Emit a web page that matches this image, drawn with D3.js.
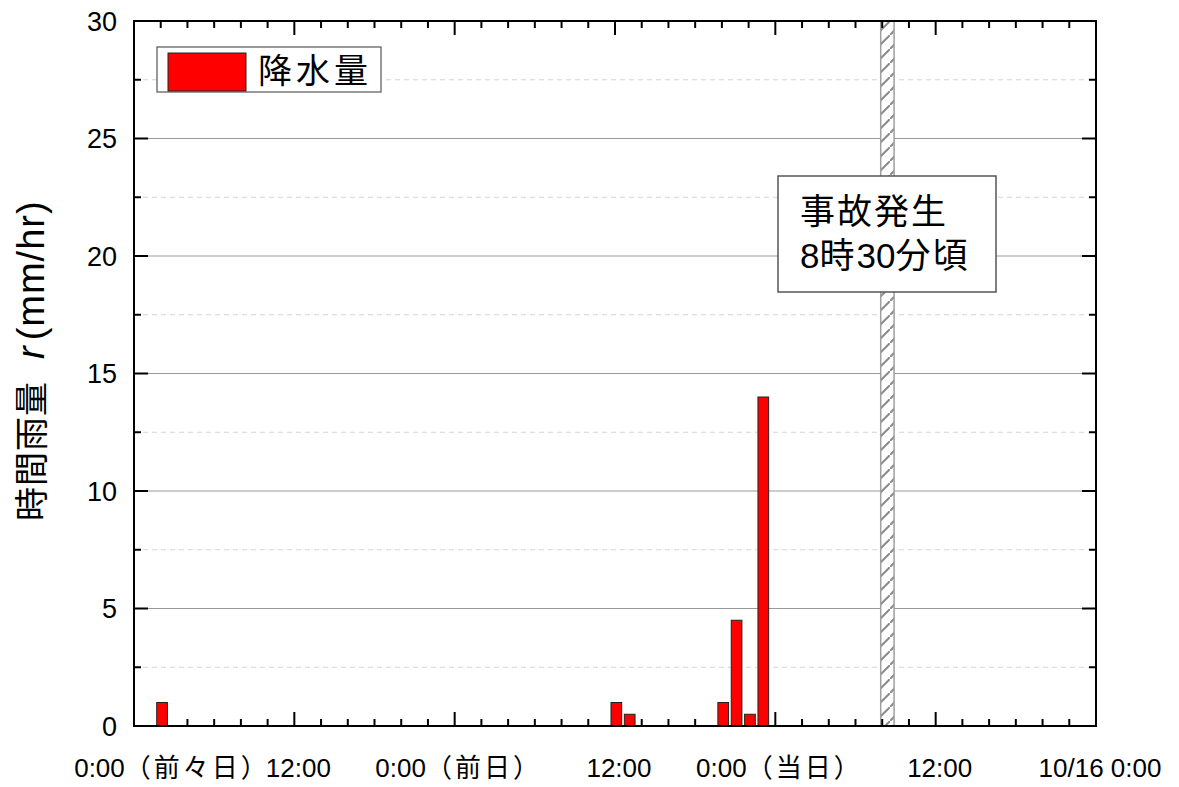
<!DOCTYPE html>
<html>
<head>
<meta charset="utf-8">
<script src="https://cdn.jsdelivr.net/npm/d3@7"></script>
<style>
  html, body { margin: 0; padding: 0; background: #fff; }
  svg { display: block; }
  text { font-family: "Liberation Sans", Arial, "Noto Sans CJK JP", sans-serif; fill: #000; }
</style>
</head>
<body>
<svg id="chart" width="1179" height="787"></svg>
<script>
// Hourly rainfall, hours counted from 0:00 two days before the accident
const rainHours = [2, 36, 37, 44, 45, 46, 47];
const rainValues = [1, 1, 0.5, 1, 4.5, 0.5, 14];

// Time axis (hours) and its labels
const xTickHours = [0, 12, 24, 36, 48, 60, 72];
const xTickLabels = ["0:00（前々日）", "12:00", "0:00（前日）", "12:00", "0:00（当日）", "12:00", "10/16 0:00"];

// Value axis
const yTicks = [0, 5, 10, 15, 20, 25, 30];

// Accident window (8:00–9:00 on the day)
const accidentWindow = [56, 57];
const accidentLines = ["事故発生", "8時30分頃"];
const legendLabel = "降水量";

const W = 1179, H = 787;
const margin = { left: 134, right: 83, top: 21, bottom: 61 };
const innerW = W - margin.left - margin.right;
const innerH = H - margin.top - margin.bottom;

const svg = d3.select("#chart");
const defs = svg.append("defs");

// Split a label into runs of wide (CJK) and narrow characters
const isWide = ch => ch.charCodeAt(0) >= 0x3000;
function runs(str) {
  const out = [];
  for (const ch of str) {
    const w = isWide(ch);
    if (out.length && out[out.length - 1].wide === w) out[out.length - 1].t += ch;
    else out.push({ t: ch, wide: w });
  }
  return out;
}
function writeRuns(sel, str, wideSpacing) {
  runs(str).forEach(r => {
    sel.append("tspan")
      .attr("letter-spacing", r.wide ? wideSpacing : 0)
      .text(r.t);
  });
}

// Diagonal hatch for the accident window
const pat = defs.append("pattern")
  .attr("id", "hatch")
  .attr("patternUnits", "userSpaceOnUse")
  .attr("width", 14).attr("height", 14);
pat.append("rect").attr("width", 14).attr("height", 14).attr("fill", "#fff");
pat.append("line")
  .attr("x1", 0).attr("y1", 14).attr("x2", 14).attr("y2", 0)
  .attr("stroke", "#8a8a8a").attr("stroke-width", 2);

const g = svg.append("g").attr("transform", `translate(${margin.left},${margin.top})`);

const x = d3.scaleLinear().domain([0, 72]).range([0, innerW]);
const y = d3.scaleLinear().domain([0, 30]).range([innerH, 0]);

// Horizontal grid: dashed minor, solid major
const minorY = d3.range(2.5, 30, 5);
g.append("g").selectAll("line").data(minorY).join("line")
  .attr("x1", 0).attr("x2", innerW)
  .attr("y1", d => y(d)).attr("y2", d => y(d))
  .attr("stroke", "#d4d4d4").attr("stroke-width", 1)
  .attr("stroke-dasharray", "5,4");
g.append("g").selectAll("line").data(yTicks.filter(d => d > 0 && d < 30)).join("line")
  .attr("x1", 0).attr("x2", innerW)
  .attr("y1", d => y(d)).attr("y2", d => y(d))
  .attr("stroke", "#999").attr("stroke-width", 1);

// Accident window band
g.append("rect")
  .attr("x", x(accidentWindow[0]) - 1.5)
  .attr("y", 0)
  .attr("width", x(accidentWindow[1]) - x(accidentWindow[0]))
  .attr("height", innerH)
  .attr("fill", "url(#hatch)")
  .attr("stroke", "#a0a0a0").attr("stroke-width", 1.5);

// Axes with inward ticks on all four sides
const minorX = d3.range(0, 73, 2);
const minorYall = d3.range(0, 30.1, 2.5);
function tickLen(isMajor) { return isMajor ? 14 : 7; }

const ticks = g.append("g").attr("stroke", "#000").attr("stroke-width", 2);
minorX.forEach(h => {
  const L = tickLen(h % 12 === 0);
  ticks.append("line").attr("x1", x(h)).attr("x2", x(h)).attr("y1", innerH).attr("y2", innerH - L);
  ticks.append("line").attr("x1", x(h)).attr("x2", x(h)).attr("y1", 0).attr("y2", L);
});
minorYall.forEach(v => {
  const L = tickLen(v % 5 === 0);
  ticks.append("line").attr("x1", 0).attr("x2", L).attr("y1", y(v)).attr("y2", y(v));
  ticks.append("line").attr("x1", innerW).attr("x2", innerW - L).attr("y1", y(v)).attr("y2", y(v));
});

// Rainfall bars (drawn above the ticks)
const barW = 0.8;
g.append("g").selectAll("rect").data(rainHours.map((h, i) => ({ h, v: rainValues[i] }))).join("rect")
  .attr("x", d => x(d.h - 0.3))
  .attr("width", d => x(d.h + barW - 0.3) - x(d.h - 0.3))
  .attr("y", d => y(d.v))
  .attr("height", d => y(0) - y(d.v))
  .attr("fill", "#ff0000")
  .attr("stroke", "#222").attr("stroke-width", 1);

// Frame
g.append("rect")
  .attr("x", 0).attr("y", 0).attr("width", innerW).attr("height", innerH)
  .attr("fill", "none").attr("stroke", "#000").attr("stroke-width", 2);

// Y tick labels
g.append("g").selectAll("text").data(yTicks).join("text")
  .attr("x", -17).attr("y", d => y(d))
  .attr("dy", "0.36em")
  .attr("text-anchor", "end")
  .attr("font-size", 27)
  .text(d => d);

// X tick labels
g.append("g").selectAll("text").data(xTickHours).join("text")
  .attr("x", (d, i) => x(d) + (i === 0 ? 38 : 4))
  .attr("y", innerH + 51)
  .attr("text-anchor", "middle")
  .attr("font-size", 26)
  .each(function (d, i) { writeRuns(d3.select(this), xTickLabels[i], 3); });

// Y axis title
const yt = svg.append("text")
  .attr("transform", "translate(44,521) rotate(-90)")
  .attr("text-anchor", "start");
yt.append("tspan").attr("font-size", 34).attr("letter-spacing", 1).text("時間雨量");
yt.append("tspan").attr("font-size", 38).attr("dx", 22).attr("font-style", "italic").text("r");
yt.append("tspan").attr("font-size", 38).attr("dx", 6).attr("letter-spacing", 1).text("(mm/hr)");

// Legend
const lg = svg.append("g");
lg.append("rect").attr("x", 157).attr("y", 47).attr("width", 224).attr("height", 45)
  .attr("fill", "#fff").attr("stroke", "#555").attr("stroke-width", 1.2);
lg.append("rect").attr("x", 168).attr("y", 53).attr("width", 78).attr("height", 38)
  .attr("fill", "#ff0000").attr("stroke", "#222").attr("stroke-width", 1);
lg.append("text").attr("x", 258).attr("y", 83)
  .attr("font-size", 34).attr("letter-spacing", 4)
  .text(legendLabel);

// Accident annotation
const ann = svg.append("g");
ann.append("rect").attr("x", 778).attr("y", 176).attr("width", 218).attr("height", 116)
  .attr("fill", "#fff").attr("stroke", "#555").attr("stroke-width", 1.5);
ann.selectAll("text").data(accidentLines).join("text")
  .attr("x", 800)
  .attr("y", (d, i) => 224 + i * 44)
  .attr("font-size", 35)
  .each(function (d) { writeRuns(d3.select(this), d, 2); });
</script>
</body>
</html>
